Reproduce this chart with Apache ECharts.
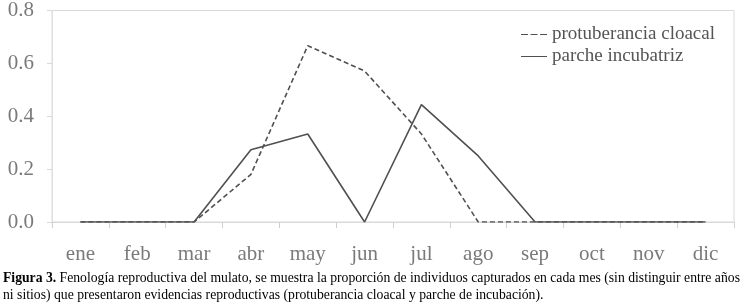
<!DOCTYPE html>
<html lang="es">
<head>
<meta charset="UTF-8">
<title>Figura 3</title>
<script src="https://cdn.jsdelivr.net/npm/echarts@6/dist/echarts.min.js"></script>
<style>
    body { margin: 0; padding: 0; background: #ffffff; }
    #chart { width: 748px; height: 306px; }
</style>
</head>
<body>
<div id="chart"></div>
<script>
    // meses
    const months = ['ene', 'feb', 'mar', 'abr', 'may', 'jun', 'jul', 'ago', 'sep', 'oct', 'nov', 'dic'];
    // proporcion de individuos por mes
    const protuberancia = [0, 0, 0, 0.18, 0.667, 0.571, 0.333, 0, 0, 0, 0, 0];
    const parche = [0, 0, 0, 0.273, 0.333, 0, 0.444, 0.25, 0, 0, 0, 0];
    const yTicks = [0, 0.2, 0.4, 0.6, 0.8];

    const serif = '"Liberation Serif", "DejaVu Serif", serif';
    const lineColor = '#505050';

    const chart = echarts.init(document.getElementById('chart'));
    chart.setOption({
        animation: false,
        grid: {
            left: 52, right: 14, top: 10, bottom: 84,
            show: true,
            borderColor: '#d9d9d9',
            borderWidth: 1
        },
        legend: {
            right: 28,
            top: 20,
            orient: 'vertical',
            itemGap: 3,
            itemWidth: 26,
            itemHeight: 10,
            textStyle: { fontFamily: serif, fontSize: 19, color: '#555' },
            data: [
                { name: 'protuberancia cloacal', icon: 'path://M0,0h7v1h-7z M9.5,0h7v1h-7z M19,0h7v1h-7z' },
                { name: 'parche incubatriz', icon: 'path://M0,0h26v1h-26z' }
            ]
        },
        xAxis: {
            type: 'category',
            data: months,
            boundaryGap: true,
            axisLine: { lineStyle: { color: '#d9d9d9' } },
            axisTick: { show: true, length: 6, lineStyle: { color: '#d0d0d0' } },
            axisLabel: { fontFamily: serif, fontSize: 21, color: '#7a7a7a', margin: 22 }
        },
        yAxis: {
            type: 'value',
            min: 0,
            max: 0.8,
            interval: 0.2,
            splitLine: { show: false },
            axisLine: { show: true, lineStyle: { color: '#e0e0e0' } },
            axisTick: { show: true, length: 5, lineStyle: { color: '#d9d9d9' } },
            axisLabel: {
                fontFamily: serif, fontSize: 21, color: '#7a7a7a', margin: 18,
                formatter: v => yTicks.includes(Math.round(v * 10) / 10) ? v.toFixed(1) : ''
            }
        },
        series: [
            {
                name: 'protuberancia cloacal',
                type: 'line',
                data: protuberancia,
                symbol: 'none',
                itemStyle: { color: lineColor },
                lineStyle: { color: lineColor, width: 1.6, type: [5, 3] }
            },
            {
                name: 'parche incubatriz',
                type: 'line',
                data: parche,
                symbol: 'none',
                itemStyle: { color: lineColor },
                lineStyle: { color: lineColor, width: 1.6 }
            }
        ],
        graphic: [
            {
                type: 'text',
                left: 3,
                top: 271,
                style: {
                    rich: {
                        b: { fontFamily: serif, fontSize: 13.7, fontWeight: 'bold', fill: '#000' },
                        n: { fontFamily: serif, fontSize: 13.7, fill: '#000' }
                    },
                    text: '{b|Figura 3.} {n|Fenología reproductiva del mulato, se muestra la proporción de individuos capturados en cada mes (sin distinguir entre años}'
                }
            },
            {
                type: 'text',
                left: 3,
                top: 288,
                style: {
                    fontFamily: serif, fontSize: 13.7, fill: '#000',
                    text: 'ni sitios) que presentaron evidencias reproductivas (protuberancia cloacal y parche de incubación).'
                }
            }
        ]
    });
</script>
</body>
</html>
